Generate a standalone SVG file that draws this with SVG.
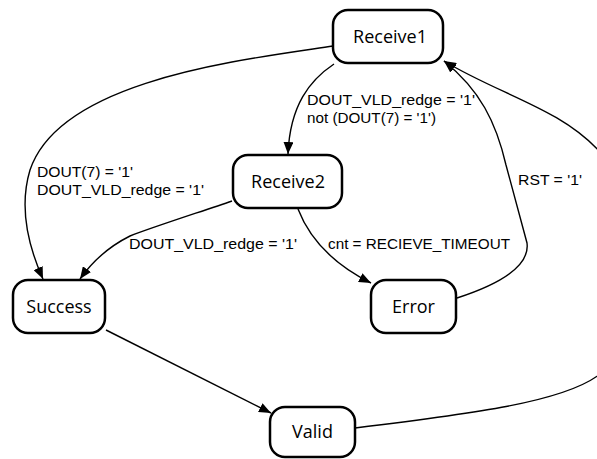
<svg xmlns="http://www.w3.org/2000/svg" width="597" height="459" viewBox="0 0 597 459">
  <style>
    .state rect { fill: #fff; stroke: #000; stroke-width: 2.5; }
    .state text { font-family: "Open Sans", "DejaVu Sans", sans-serif; font-size: 18px; fill: #000; text-anchor: middle; }
    .edge { fill: none; stroke: #000; stroke-width: 1.4; }
    .lbl { font-family: "Liberation Sans", Arial, sans-serif; font-size: 14px; fill: #000; }
  </style>
  <defs>
    <marker id="arrow" viewBox="0 0 12 10" refX="12" refY="5" markerWidth="12" markerHeight="10" markerUnits="userSpaceOnUse" orient="auto">
      <path d="M0,0 L12,5 L0,10 Z" fill="#000"/>
    </marker>
  </defs>
  <rect width="597" height="459" fill="#fff"/>

  <g id="connectors">
    <!-- Receive1 -> Success -->
    <path class="edge" marker-end="url(#arrow)" d="M333,46 C240,60 60,80 30,170 C18,210 30,250 43,279"/>
    <!-- Receive1 -> Receive2 -->
    <path class="edge" marker-end="url(#arrow)" d="M334,64 C310,80 290,105 288,154"/>
    <!-- Receive2 -> Success -->
    <path class="edge" marker-end="url(#arrow)" d="M232,201 C200,212 150,228 130,236 C110,246 92,262 80,279"/>
    <!-- Receive2 -> Error -->
    <path class="edge" marker-end="url(#arrow)" d="M298,209 C310,240 335,265 371,283"/>
    <!-- Error -> Receive1 -->
    <path class="edge" marker-end="url(#arrow)" d="M457,298 C500,284 530,266 527,243 L506,165 C496,122 480,90 444,61"/>
    <!-- Valid -> Receive1 (leaves the frame on the right and comes back) -->
    <path class="edge" d="M355,428 C470,414 565,402 600,374"/>
    <path class="edge" marker-end="url(#arrow)" d="M600,152 C560,108 500,95 444,61"/>
    <!-- Success -> Valid -->
    <path class="edge" marker-end="url(#arrow)" d="M106,330 L271,413"/>
  </g>

  <g id="labels">
    <text class="lbl" x="307" y="105" textLength="168" lengthAdjust="spacingAndGlyphs">DOUT_VLD_redge = '1'</text>
    <text class="lbl" x="307" y="123" textLength="129" lengthAdjust="spacingAndGlyphs">not (DOUT(7) = '1')</text>
    <text class="lbl" x="37" y="177" textLength="96" lengthAdjust="spacingAndGlyphs">DOUT(7) = '1'</text>
    <text class="lbl" x="37" y="195" textLength="167" lengthAdjust="spacingAndGlyphs">DOUT_VLD_redge = '1'</text>
    <text class="lbl" x="129" y="249" textLength="168" lengthAdjust="spacingAndGlyphs">DOUT_VLD_redge = '1'</text>
    <text class="lbl" x="328" y="249" textLength="182" lengthAdjust="spacingAndGlyphs">cnt = RECIEVE_TIMEOUT</text>
    <text class="lbl" x="518" y="185" textLength="64" lengthAdjust="spacingAndGlyphs">RST = '1'</text>
  </g>

  <g id="Receive1" class="state">
    <rect x="333" y="10" width="110" height="53" rx="15"/>
    <text x="390" y="43">Receive1</text>
  </g>
  <g id="Receive2" class="state">
    <rect x="233" y="155" width="109" height="53" rx="15"/>
    <text x="288" y="188">Receive2</text>
  </g>
  <g id="Success" class="state">
    <rect x="13" y="280" width="92" height="53" rx="15"/>
    <text x="59" y="313">Success</text>
  </g>
  <g id="Error" class="state">
    <rect x="371" y="280" width="85" height="53" rx="15"/>
    <text x="413.5" y="313">Error</text>
  </g>
  <g id="Valid" class="state">
    <rect x="270" y="407" width="85" height="50" rx="15"/>
    <text x="312.5" y="438">Valid</text>
  </g>
</svg>
